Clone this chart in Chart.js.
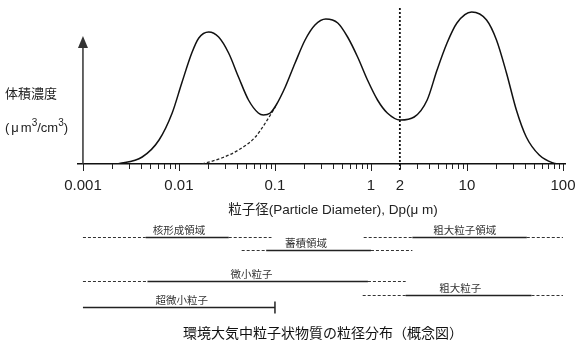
<!DOCTYPE html>
<html>
<head>
<meta charset="utf-8">
<script src="https://cdn.jsdelivr.net/npm/chart.js@4.4.1/dist/chart.umd.min.js"></script>
<style>
  html, body { margin: 0; padding: 0; background: #fff; }
</style>
</head>
<body>
<canvas id="psd" width="582" height="352"></canvas>
<script>
// Volume size distribution (diameter in um, volume conc. in arbitrary units)
const diameters = [0.0022, 0.0024, 0.00414, 0.0062, 0.0085, 0.0107, 0.0136, 0.0161, 0.0204, 0.0259,
  0.0329, 0.0417, 0.053, 0.0671, 0.0757, 0.0893, 0.103, 0.128, 0.162, 0.206, 0.261, 0.339, 0.451,
  0.571, 0.726, 0.92, 1.17, 1.48, 2.02, 2.82, 3.85, 4.88, 6.2, 7.86, 11.2, 16.0, 20.3, 25.8, 32.7,
  41.5, 56.6, 79, 90];
const volumeConc = [0, 0.5, 7, 24, 51, 81, 111, 126, 132, 127,
  111, 87, 64, 51, 49, 51, 59, 77, 101, 124, 139, 145, 141,
  127, 107, 84, 64, 51, 44, 47, 64, 94, 121, 141, 152, 144, 124, 91, 54,
  27, 9, 1, 0];

// Dashed left tail of the accumulation mode
const tailDiameters = [0.0174, 0.0279, 0.0417, 0.0625, 0.0794, 0.1007];
const tailConc = [0, 6, 14, 27, 41, 57];

// Axis labels
const tickValues = [0.001, 0.01, 0.1, 1, 2, 10, 100];
const tickLabels = ['0.001', '0.01', '0.1', '1', '2', '10', '100'];
const fineCoarseBoundary = 2;

// Size ranges: [dashed from, solid from, solid to, dashed to] in um
const rangeNames = ['核形成領域', '蓄積領域', '粗大粒子領域', '微小粒子', '超微小粒子', '粗大粒子'];
const rangeBounds = [
  [0.001, 0.0045, 0.033, 0.092],
  [0.045, 0.081, 1.0, 2.7],
  [0.84, 2.7, 42, 100],
  [0.001, 0.0047, 0.93, 2.3],
  [0.001, 0.001, 0.1, 0.1],
  [0.82, 2.3, 47, 100]
];
const rangeLabelAt = [0.0100, 0.21, 9.5, 0.057, 0.0107, 8.5];

const rowY = [237, 250, 237, 281, 307, 295];

const latin = '"Liberation Sans", Arial, "Noto Sans CJK JP", sans-serif';
const cjk = '"Noto Sans CJK JP", "Liberation Sans", sans-serif';

// minor + major tick positions for every decade
const allTicks = [];
for (let e = -3; e <= 2; e++) {
  for (let m = 1; m <= 9; m++) {
    const v = Number((m * Math.pow(10, e)).toPrecision(3));
    if (v <= 100) allTicks.push(v);
  }
}

const overlay = {
  id: 'overlay',
  afterDraw(chart) {
    const ctx = chart.ctx;
    const x = chart.scales.x;
    const area = chart.chartArea;
    const base = area.bottom;
    ctx.save();

    // tick marks
    ctx.strokeStyle = '#222';
    ctx.lineWidth = 1;
    allTicks.forEach(v => {
      const px = Math.round(x.getPixelForValue(v)) + 0.5;
      const major = Number.isInteger(Math.round(Math.log10(v) * 1000) / 1000);
      ctx.beginPath();
      ctx.moveTo(px, base);
      ctx.lineTo(px, base + (major ? 7 : 5));
      ctx.stroke();
    });

    // dotted boundary at 2 um
    const bx = x.getPixelForValue(fineCoarseBoundary);
    ctx.setLineDash([2, 2]);
    ctx.lineWidth = 1.8;
    ctx.strokeStyle = '#111';
    ctx.beginPath();
    ctx.moveTo(bx, area.top + 4);
    ctx.lineTo(bx, base + 8);
    ctx.stroke();
    ctx.setLineDash([]);

    // y axis arrow
    const ax = x.getPixelForValue(0.001);
    ctx.strokeStyle = '#333';
    ctx.fillStyle = '#333';
    ctx.lineWidth = 1.5;
    ctx.beginPath();
    ctx.moveTo(ax, base);
    ctx.lineTo(ax, 46);
    ctx.stroke();
    ctx.beginPath();
    ctx.moveTo(ax, 36);
    ctx.lineTo(ax - 5, 48);
    ctx.lineTo(ax + 5, 48);
    ctx.closePath();
    ctx.fill();

    // y axis label
    ctx.fillStyle = '#222';
    ctx.textBaseline = 'middle';
    ctx.textAlign = 'left';
    ctx.font = '13px ' + cjk;
    ctx.fillText('体積濃度', 5, 93);
    let tx = 5;
    const part = (s, size, dy) => {
      ctx.font = size + 'px ' + latin;
      ctx.fillText(s, tx, 128 + dy);
      tx += ctx.measureText(s).width;
    };
    part('(', 13, 0);
    tx += 2;
    part('μ', 13, 0);
    tx += 2;
    part('m', 13, 0);
    part('3', 10, -5);
    part('/cm', 13, 0);
    part('3', 10, -5);
    part(')', 13, 0);

    // x axis title
    ctx.textAlign = 'center';
    ctx.font = '13.5px ' + latin;
    ctx.fillText('粒子径(Particle Diameter), Dp(μ m)', 333, 210);

    // size ranges
    rangeBounds.forEach((b, i) => {
      const y = rowY[i] + 0.5;
      const p = b.map(v => x.getPixelForValue(v));
      ctx.strokeStyle = '#333';
      ctx.setLineDash([3, 2]);
      ctx.lineWidth = 1.2;
      ctx.beginPath();
      ctx.moveTo(p[0], y); ctx.lineTo(p[1], y);
      ctx.moveTo(p[2], y); ctx.lineTo(p[3], y);
      ctx.stroke();
      ctx.setLineDash([]);
      ctx.strokeStyle = '#222';
      ctx.lineWidth = 1.5;
      ctx.beginPath();
      ctx.moveTo(p[1], y); ctx.lineTo(p[2], y);
      ctx.stroke();
      if (b[2] === b[3]) {
        ctx.beginPath();
        ctx.moveTo(p[2], y - 6); ctx.lineTo(p[2], y + 6);
        ctx.stroke();
      }
      ctx.font = '10.5px ' + cjk;
      ctx.fillStyle = '#333';
      ctx.fillText(rangeNames[i], x.getPixelForValue(rangeLabelAt[i]), y - 7);
    });

    // caption
    ctx.font = '14px ' + cjk;
    ctx.fillStyle = '#111';
    ctx.fillText('環境大気中粒子状物質の粒径分布（概念図）', 323, 333);
    ctx.restore();
  }
};

new Chart(document.getElementById('psd'), {
  type: 'line',
  data: {
    datasets: [
      {
        data: diameters.map((d, i) => ({ x: d, y: volumeConc[i] })),
        borderColor: '#111',
        borderWidth: 1.5,
        pointRadius: 0,
        cubicInterpolationMode: 'monotone',
        fill: false
      },
      {
        data: tailDiameters.map((d, i) => ({ x: d, y: tailConc[i] })),
        borderColor: '#222',
        borderWidth: 1.3,
        borderDash: [3, 2],
        pointRadius: 0,
        cubicInterpolationMode: 'monotone',
        fill: false
      }
    ]
  },
  options: {
    responsive: false,
    animation: false,
    devicePixelRatio: 1,
    layout: { padding: { left: 78, right: 17, top: 4, bottom: 152 } },
    plugins: { legend: { display: false }, tooltip: { enabled: false } },
    scales: {
      x: {
        type: 'logarithmic',
        min: 0.000888,
        max: 105,
        border: { display: true, color: '#111', width: 1.5 },
        grid: { display: true, drawOnChartArea: false, drawTicks: true, tickLength: 8, tickColor: 'rgba(0,0,0,0)' },
        afterBuildTicks: scale => { scale.ticks = allTicks.map(v => ({ value: v })); },
        ticks: {
          autoSkip: false,
          maxRotation: 0,
          padding: 5,
          color: '#222',
          font: { family: latin, size: 15 },
          callback: v => {
            const i = tickValues.findIndex(t => Math.abs(t - v) / t < 1e-6);
            return i >= 0 ? tickLabels[i] : '';
          }
        }
      },
      y: { type: 'linear', display: false, min: 0, max: 160 }
    }
  },
  plugins: [overlay]
});
</script>
</body>
</html>
